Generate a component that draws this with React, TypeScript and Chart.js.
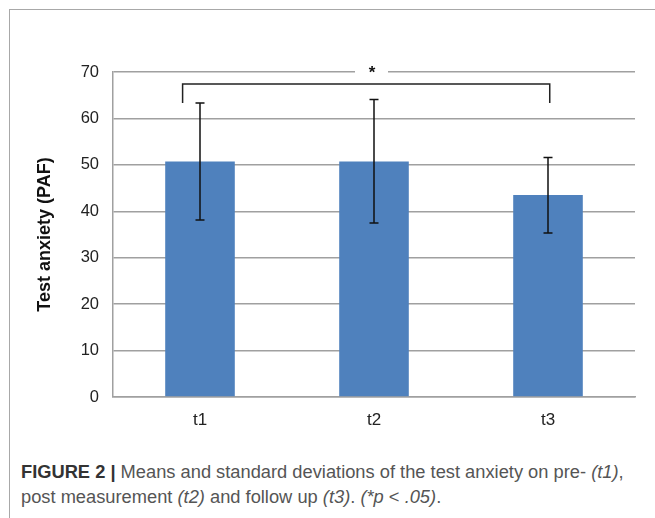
import React, { useEffect, useRef } from "react";
import { Chart, registerables } from "chart.js";

Chart.register(...registerables);

const categories = ["t1", "t2", "t3"];
const means = [50.7, 50.7, 43.5];
const sdUpper = [63.3, 64.1, 51.6];
const sdLower = [38.1, 37.5, 35.3];
const yTicks = [0, 10, 20, 30, 40, 50, 60, 70];
const bracketFrom = -0.1;
const bracketTo = 2.01;
const bracketTop = 67.4;
const bracketEnd = 63.3;
const sigLabel = "*";
const sigAt = 1;
const sigLevel = 70;

const FONT = "'Liberation Sans', Arial, sans-serif";

const overlayPlugin = {
  id: "overlay",
  afterDatasetsDraw(chart: any) {
    const { ctx, scales } = chart;
    const xs = scales.x;
    const ys = scales.y;
    ctx.save();
    ctx.strokeStyle = "#111";
    ctx.lineWidth = 1.5;
    categories.forEach((_, i) => {
      const x = xs.getPixelForValue(i);
      const yt = ys.getPixelForValue(sdUpper[i]);
      const yb = ys.getPixelForValue(sdLower[i]);
      ctx.beginPath();
      ctx.moveTo(x, yt);
      ctx.lineTo(x, yb);
      ctx.moveTo(x - 4.5, yt);
      ctx.lineTo(x + 4.5, yt);
      ctx.moveTo(x - 4.5, yb);
      ctx.lineTo(x + 4.5, yb);
      ctx.stroke();
    });
    const x1 = xs.getPixelForValue(bracketFrom);
    const x2 = xs.getPixelForValue(bracketTo);
    const yTop = ys.getPixelForValue(bracketTop);
    const yEnd = ys.getPixelForValue(bracketEnd);
    ctx.strokeStyle = "#222";
    ctx.lineWidth = 1.5;
    ctx.beginPath();
    ctx.moveTo(x1, yEnd);
    ctx.lineTo(x1, yTop);
    ctx.lineTo(x2, yTop);
    ctx.lineTo(x2, yEnd);
    ctx.stroke();
    const sx = xs.getPixelForValue(sigAt);
    const sy = ys.getPixelForValue(sigLevel);
    ctx.fillStyle = "#fff";
    ctx.fillRect(sx - 19, sy - 4, 33, 8);
    ctx.fillStyle = "#111";
    ctx.font = "bold 17px " + FONT;
    ctx.textAlign = "center";
    ctx.textBaseline = "middle";
    ctx.fillText(sigLabel, sx - 2, sy + 1);
    ctx.restore();
  },
};

export default function App() {
  const ref = useRef<HTMLCanvasElement | null>(null);
  useEffect(() => {
    if (!ref.current) return;
    const chart = new Chart(ref.current, {
      type: "bar",
      data: {
        labels: categories,
        datasets: [
          {
            data: means,
            backgroundColor: "#4f81bd",
            borderWidth: 0,
            barPercentage: 0.4,
            categoryPercentage: 1,
          },
        ],
      },
      options: {
        responsive: false,
        animation: false,
        layout: { padding: { left: 34, right: 20, top: 72, bottom: 0 } },
        plugins: { legend: { display: false }, tooltip: { enabled: false } },
        scales: {
          x: {
            grid: { display: false, drawTicks: false },
            border: { display: true, color: "#a0a0a0", width: 1.5 },
            ticks: {
              color: "#222",
              padding: 13,
              font: { size: 17, family: FONT },
            },
            afterFit: (s: any) => {
              s.height = 43;
            },
          },
          y: {
            min: 0,
            max: 70,
            afterBuildTicks: (s: any) => {
              s.ticks = yTicks.map((v) => ({ value: v }));
            },
            grid: { color: "#a0a0a0", lineWidth: 1.5, drawTicks: false },
            border: { display: true, color: "#a0a0a0", width: 1.5 },
            ticks: {
              color: "#222",
              padding: 14,
              font: { size: 16.5, family: FONT },
            },
            title: {
              display: true,
              text: "Test anxiety (PAF)",
              color: "#111",
              padding: 0,
              font: { size: 18, weight: "bold", family: FONT },
            },
            afterFit: (s: any) => {
              s.width = 79;
            },
          },
        },
      },
      plugins: [overlayPlugin],
    });
    return () => chart.destroy();
  }, []);

  return (
    <div style={{ position: "absolute", left: 0, top: 0, width: 655, height: 518, background: "#fff", overflow: "hidden" }}>
      <div
        style={{
          position: "absolute",
          left: 9,
          top: 9,
          width: 700,
          height: 600,
          borderLeft: "1.5px solid #a8a8a8",
          borderTop: "1.5px solid #a8a8a8",
        }}
      />
      <canvas ref={ref} width={655} height={440} style={{ position: "absolute", left: 0, top: 0, width: 655, height: 440 }} />
      <div
        style={{
          position: "absolute",
          left: 21,
          top: 459,
          width: 634,
          fontFamily: FONT,
          fontSize: 18.3,
          lineHeight: "25px",
          color: "#555",
          whiteSpace: "nowrap",
        }}
      >
        <div>
          <span style={{ fontWeight: "bold", color: "#333" }}>FIGURE 2 |</span> Means and standard deviations of the test anxiety on pre- <i>(t1)</i>,
        </div>
        <div>
          post measurement <i>(t2)</i> and follow up <i>(t3)</i>. <i>(*p</i> &lt; <i>.05)</i>.
        </div>
      </div>
    </div>
  );
}
